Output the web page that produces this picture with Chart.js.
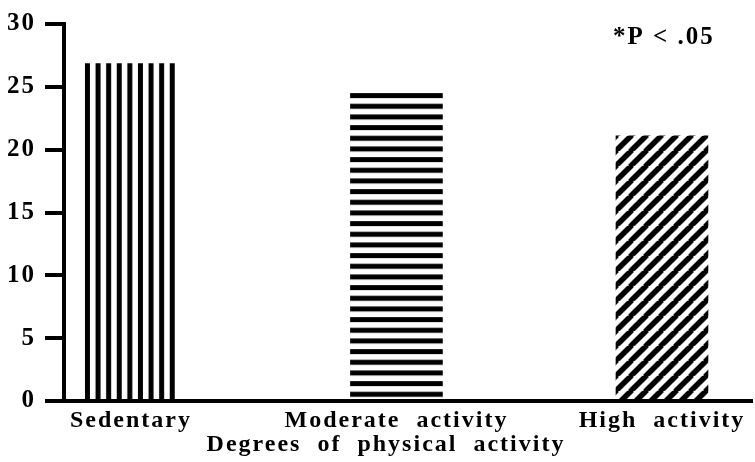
<!DOCTYPE html>
<html>
<head>
<meta charset="utf-8">
<script src="https://cdn.jsdelivr.net/npm/chart.js@4/dist/chart.umd.min.js"></script>
<style>
  html, body { margin: 0; padding: 0; background: #fff; }
</style>
</head>
<body>
<canvas id="chart" width="755" height="462"></canvas>
<script>
/* Physical activity bar chart (striped bars, serif bold text) */

const categories = ['Sedentary', 'Moderate activity', 'High activity'];
const values = [26.85, 24.5, 21.1];
const yTicks = [0, 5, 10, 15, 20, 25, 30];
const xTitle = 'Degrees of physical activity';
const note = '*P < .05';

const FONT = '"Liberation Serif", "Times New Roman", serif';

// --- stripe patterns ---
function makeTile(w, h, draw) {
  const c = document.createElement('canvas');
  c.width = w;
  c.height = h;
  const g = c.getContext('2d');
  g.fillStyle = '#000';
  g.strokeStyle = '#000';
  draw(g);
  return g.createPattern(c, 'repeat');
}

const verticalStripes = makeTile(53, 4, g => {
  for (let i = 0; i < 5; i++) g.fillRect(i * 10.6, 0, 5, 4);
});

const horizontalStripes = makeTile(4, 32, g => {
  for (let i = 0; i < 3; i++) g.fillRect(0, i * 10.667, 4, 5);
});

const diagonalStripes = makeTile(15, 15, g => {
  g.lineWidth = 5.5;
  [-15, 0, 15].forEach(o => {
    g.beginPath();
    g.moveTo(o - 1, 16);
    g.lineTo(o + 16, -1);
    g.stroke();
  });
});

const patterns = [verticalStripes, horizontalStripes, diagonalStripes];

// keep each stripe pattern anchored to its own bar
const alignPatterns = {
  id: 'alignPatterns',
  beforeDatasetsDraw(chart) {
    chart.getDatasetMeta(0).data.forEach((bar, i) => {
      const left = bar.x - bar.width / 2;
      patterns[i].setTransform(new DOMMatrix([1, 0, 0, 1, left, bar.y]));
    });
  }
};

// spaced-out text + title and note
const extraText = {
  id: 'extraText',
  beforeLayout(chart) {
    chart.ctx.letterSpacing = '2px';
    chart.ctx.wordSpacing = '8px';
  },
  beforeDraw(chart) {
    chart.ctx.letterSpacing = '2px';
    chart.ctx.wordSpacing = '8px';
  },
  afterDraw(chart) {
    const ctx = chart.ctx;
    ctx.save();
    ctx.fillStyle = '#000';
    ctx.textBaseline = 'alphabetic';
    ctx.font = 'bold 24px ' + FONT;
    ctx.textAlign = 'center';
    ctx.fillText(xTitle, 386, 451);
    ctx.font = 'bold 25px ' + FONT;
    ctx.wordSpacing = '0px';
    ctx.textAlign = 'left';
    ctx.fillText(note, 613, 44);
    ctx.restore();
  }
};

const ctx = document.getElementById('chart');

new Chart(ctx, {
  type: 'bar',
  data: {
    datasets: [{
      data: categories.map((c, i) => ({ x: i, y: values[i] })),
      backgroundColor: patterns,
      borderWidth: 0,
      barThickness: 92
    }]
  },
  options: {
    responsive: false,
    animation: false,
    devicePixelRatio: 1,
    layout: { padding: { top: 19, right: 3, left: 0, bottom: 0 } },
    plugins: {
      legend: { display: false },
      tooltip: { enabled: false }
    },
    scales: {
      x: {
        type: 'linear',
        offset: false,
        min: -0.252,
        max: 2.339,
        afterBuildTicks: s => { s.ticks = categories.map((c, i) => ({ value: i })); },
        afterFit: s => { s.height = 61; },
        ticks: {
          callback: v => categories[v],
          color: '#000',
          font: { family: FONT, size: 24, weight: 'bold' },
          padding: -3,
          maxRotation: 0,
          autoSkip: false
        },
        grid: { display: false },
        border: { display: true, color: '#000', width: 4 }
      },
      y: {
        min: 0,
        max: 30,
        afterBuildTicks: s => { s.ticks = yTicks.map(v => ({ value: v })); },
        afterFit: s => { s.width = 64; },
        ticks: {
          color: '#000',
          font: { family: FONT, size: 25, weight: 'bold' },
          padding: 9
        },
        grid: {
          drawOnChartArea: false,
          drawTicks: true,
          tickLength: 19,
          lineWidth: 4,
          color: '#000'
        },
        border: { display: true, color: '#000', width: 4 }
      }
    }
  },
  plugins: [alignPatterns, extraText]
});
</script>
</body>
</html>
